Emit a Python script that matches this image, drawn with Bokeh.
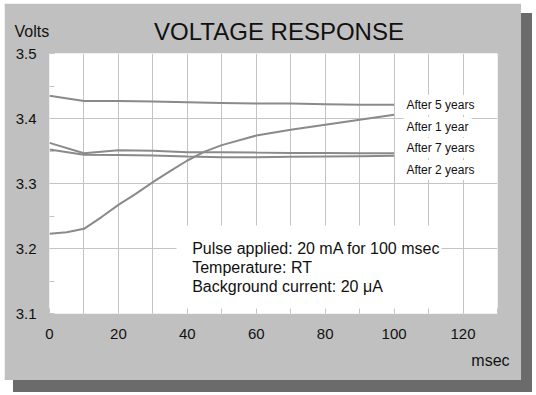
from bokeh.plotting import figure
from bokeh.models import Label, BoxAnnotation, FixedTicker, Range1d
from bokeh.embed import file_html
from bokeh.resources import INLINE

# ---- data ----
time_ms = [0, 10, 20, 30, 40, 50, 60, 70, 80, 90, 100]
after_5_years = [3.435, 3.427, 3.427, 3.426, 3.425, 3.424, 3.423, 3.423, 3.422, 3.421, 3.421]
after_7_years = [3.3625, 3.3466, 3.3513, 3.3503, 3.3482, 3.3480, 3.3475, 3.3470, 3.3470, 3.3466, 3.3466]
after_2_years = [3.3523, 3.3441, 3.3440, 3.3430, 3.3415, 3.3405, 3.3405, 3.3410, 3.3415, 3.3420, 3.3426]
time_1yr = [0, 5, 10, 15, 20, 25, 30, 35, 40, 45, 50, 60, 70, 80, 90, 100]
after_1_year = [3.2226, 3.2250, 3.2303, 3.2480, 3.2672, 3.2840, 3.3020, 3.3190, 3.3354,
                3.3490, 3.3590, 3.3738, 3.3826, 3.3903, 3.3980, 3.4057]

series_labels = ["After 5 years", "After 1 year", "After 7 years", "After 2 years"]
x_ticks = [0, 20, 40, 60, 80, 100, 120]
x_minor = [10, 30, 50, 70, 90, 110, 130]
x_grid = [10, 20, 30, 40, 50, 60, 70, 80, 90, 100, 110, 120]
y_ticks = [3.1, 3.2, 3.3, 3.4, 3.5]
y_minor = [3.15, 3.25, 3.35, 3.45]
y_grid = [3.2, 3.3, 3.4]
notes = ["Pulse applied: 20 mA for 100 msec", "Temperature: RT", "Background current: 20 \u03bcA"]
title_text = "VOLTAGE RESPONSE"
y_title = "Volts"
x_title = "msec"

FONT = "Liberation Sans"
LINE = "#8a8a8a"
PANEL = "#c0c0c0"
GRID = "#c4c4c4"
TXT = "#111111"

p = figure(width=517, height=377, x_range=Range1d(0, 130), y_range=Range1d(3.1, 3.5),
           output_backend="svg", toolbar_location=None, title=None,
           min_border_left=45, min_border_right=24, min_border_top=50, min_border_bottom=67)
p.border_fill_color = PANEL
p.background_fill_color = "white"
p.outline_line_color = None
p.styles = {"transform": "translate(4px,3px)", "box-shadow": "10px 11px 0 1px #6b6b6b"}

# grids
p.xgrid.ticker = FixedTicker(ticks=x_grid)
p.ygrid.ticker = FixedTicker(ticks=y_grid)
for g in (p.xgrid, p.ygrid):
    g.grid_line_color = GRID
    g.grid_line_width = 1

# axes
p.xaxis.ticker = FixedTicker(ticks=x_ticks, minor_ticks=x_minor)
p.yaxis.ticker = FixedTicker(ticks=y_ticks, minor_ticks=y_minor)
for ax in (p.xaxis, p.yaxis):
    ax.axis_line_color = None
    ax.major_tick_in = 5
    ax.major_tick_out = 0
    ax.minor_tick_in = 5
    ax.minor_tick_out = 0
    ax.major_tick_line_color = GRID
    ax.minor_tick_line_color = GRID
    ax.major_label_text_font = FONT
    ax.major_label_text_font_size = "15px"
    ax.major_label_text_color = TXT
p.xaxis.major_label_standoff = 15
p.yaxis.major_label_standoff = 13

# white box behind the notes
p.add_layout(BoxAnnotation(left=36.85, right=113.75, top=3.2354, bottom=3.1,
                           fill_color="white", fill_alpha=1, line_color=None, level="underlay"))

# curves
p.line(time_ms, after_5_years, line_color=LINE, line_width=2)
p.line(time_ms, after_7_years, line_color=LINE, line_width=2)
p.line(time_ms, after_2_years, line_color=LINE, line_width=2)
p.line(time_1yr, after_1_year, line_color=LINE, line_width=2)

# series labels
label_y = [3.4212, 3.3869, 3.3546, 3.3208]
for txt, yy in zip(series_labels, label_y):
    p.add_layout(Label(x=102.7, y=yy, text=txt, text_font=FONT, text_font_size="12px",
                       text_color=TXT, text_baseline="alphabetic",
                       background_fill_color="white", background_fill_alpha=1, padding=3))

# notes
note_y = [3.1995, 3.1712, 3.1415]
for txt, yy in zip(notes, note_y):
    p.add_layout(Label(x=41.4, y=yy, text=txt, text_font=FONT, text_font_size="16px",
                       text_color=TXT, text_baseline="alphabetic"))

# titles placed in the side panels (not clipped to the frame)
p.add_layout(Label(x=66.6, y=3.5345, text=title_text, text_font=FONT, text_font_size="24px",
                   text_color=TXT, text_align="center", text_baseline="alphabetic"), "above")
p.add_layout(Label(x=-10.16, y=3.5340, text=y_title, text_font=FONT, text_font_size="16px",
                   text_color=TXT, text_align="left", text_baseline="alphabetic"), "above")
p.add_layout(Label(x=133.5, y=3.0277, text=x_title, text_font=FONT, text_font_size="16px",
                   text_color=TXT, text_align="right", text_baseline="alphabetic"), "below")

open("out.html", "w").write(file_html(p, INLINE))
